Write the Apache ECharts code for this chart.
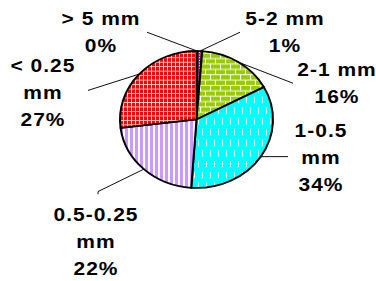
<!DOCTYPE html>
<html>
<head>
<meta charset="utf-8">
<script src="https://cdn.jsdelivr.net/npm/echarts@6/dist/echarts.min.js"></script>
<style>
	html, body { margin: 0; padding: 0; background: #fff; overflow: hidden; }
	/* the source picture is squashed vertically, so the chart is too */
	#pie-chart { width: 376px; height: 314px; transform: scaleY(0.895); transform-origin: 0 0; }
	#pie-chart text { letter-spacing: 1px; }
</style>
</head>
<body>
<div id="pie-chart"></div>
<script>
	'use strict';

	// DATA
	var categories = ['> 5 mm', '5-2 mm', '2-1 mm', '1-0.5 mm', '0.5-0.25 mm', '< 0.25 mm'];
	var values = [0.2, 1, 16, 34, 22, 27];

	// where each label sits and where its leader line ends (chart px)
	var labelAt = [[101, 36], [285, 36], [337, 93], [321, 176], [96, 270], [43, 103]];
	var lineEnd = [
		[[147, 36]],
		[[240, 36]],
		[[293, 93]],
		[[288, 175]],
		[[98, 214], [98, 217]],
		[[88, 101]]
	];

	// FILL PATTERNS
	function tile(w, h, bg, draw) {
		var c = document.createElement('canvas');
		c.width = w;
		c.height = h;
		var ctx = c.getContext('2d');
		ctx.fillStyle = bg;
		ctx.fillRect(0, 0, w, h);
		ctx.fillStyle = '#fff';
		draw(ctx);
		return { image: c, repeat: 'repeat', imageWidth: w, imageHeight: h };
	}

	var fills = [
		tile(4, 4, '#333399', function(ctx) {}),
		tile(3, 3, '#993366', function(ctx) {
			ctx.fillRect(1, 1, 1, 1);
		}),
		tile(10, 12, '#99cc00', function(ctx) {
			ctx.fillRect(0, 5, 10, 1);
			ctx.fillRect(0, 11, 10, 1);
			ctx.fillRect(0, 0, 1, 5);
			ctx.fillRect(5, 6, 1, 5);
		}),
		tile(8, 24, '#00ffff', function(ctx) {
			ctx.fillRect(2, 0, 1, 7);
			ctx.fillRect(6, 12, 1, 7);
		}),
		tile(5, 1, '#cc99ff', function(ctx) {
			ctx.fillRect(3, 0, 2, 1);
		}),
		tile(4, 5, '#ff0000', function(ctx) {
			ctx.fillStyle = '#ffd0d0';
			ctx.fillRect(3, 0, 1, 5);
			ctx.fillRect(0, 4, 4, 1);
		})
	];

	var pieData = categories.map(function(name, i) {
		return {
			name: name,
			value: values[i],
			itemStyle: { color: fills[i] }
		};
	});

	// PIE
	var chart = echarts.init(document.getElementById('pie-chart'), null, { renderer: 'svg' });
	var option = {
		animation: false,
		series: [{
			type: 'pie',
			center: [196.5, 133.5],
			radius: 76.5,
			startAngle: 90,
			clockwise: true,
			avoidLabelOverlap: false,
			percentPrecision: 0,
			data: pieData,
			itemStyle: {
				borderColor: '#000',
				borderWidth: 2
			},
			label: {
				show: true,
				color: '#000',
				fontFamily: '"Liberation Sans", Arial, sans-serif',
				fontWeight: 'bold',
				fontSize: 21,
				lineHeight: 30,
				align: 'center',
				formatter: function(p) {
					var name = p.name.length > 6 ? p.name.replace(' mm', '\nmm') : p.name;
					return name + '\n' + p.percent + '%';
				}
			},
			labelLine: {
				show: true,
				length: 10,
				length2: 10,
				smooth: false,
				lineStyle: {
					color: '#000',
					width: 1
				}
			},
			labelLayout: function(params) {
				var i = params.dataIndex;
				var start = params.labelLinePoints ? params.labelLinePoints[0] : labelAt[i];
				return {
					x: labelAt[i][0],
					y: labelAt[i][1],
					align: 'center',
					verticalAlign: 'middle',
					labelLinePoints: [start].concat(lineEnd[i])
				};
			}
		}]
	};
	chart.setOption(option);
</script>
</body>
</html>
